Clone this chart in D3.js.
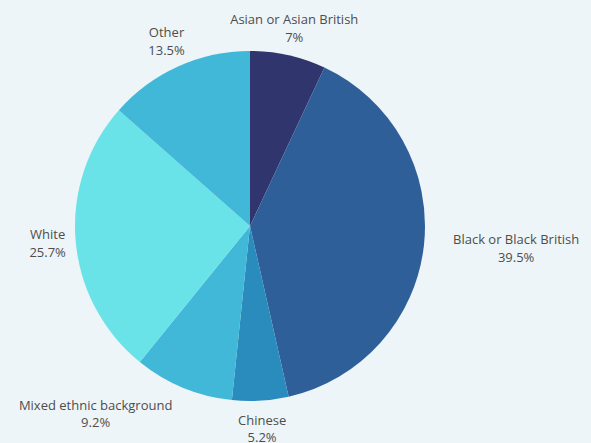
<!DOCTYPE html>
<html>
<head>
<meta charset="utf-8">
<script src="https://cdn.jsdelivr.net/npm/d3@7"></script>
<style>
  html, body { margin: 0; padding: 0; background: #eef5f8; }
  svg { display: block; }
</style>
</head>
<body>
<div class="chart"></div>
<script>
const categories = ["Asian or Asian British", "Black or Black British", "Chinese", "Mixed ethnic background", "White", "Other"];
const values = [7, 39.5, 5.2, 9.2, 25.7, 13.5];
const valueLabels = ["7%", "39.5%", "5.2%", "9.2%", "25.7%", "13.5%"];
const colors = ["#31356d", "#2e5f99", "#2a8bbd", "#41b8d7", "#69e3e8", "#42b8d8"];
const labelAlign = ["middle", "start", "middle", "end", "end", "middle"];

const w = 591;
const h = 443;
const cx = 250;
const cy = 226;
const r = 175;

const svg = d3.select('.chart')
    .append('svg')
    .attr('width', w)
    .attr('height', h);

const data = categories.map((c, i) => ({ name: c, value: values[i], label: valueLabels[i], color: colors[i], align: labelAlign[i] }));

const pie = d3.pie().value(d => d.value).sort(null);
const arc = d3.arc().innerRadius(0).outerRadius(r);

const g = svg.append('g').attr('transform', 'translate(' + cx + ',' + cy + ')');

const arcs = pie(data);

g.selectAll('path')
    .data(arcs)
    .enter()
    .append('path')
    .attr('d', arc)
    .attr('fill', d => d.data.color);

// labels outside the pie, two centred lines per label
const labelR = r + 28;
const labels = g.selectAll('text.lbl')
    .data(arcs)
    .enter()
    .append('text')
    .attr('class', 'lbl')
    .attr('font-family', '"Open Sans", sans-serif')
    .attr('font-size', 13)
    .attr('fill', '#4d4d4d')
    .attr('text-anchor', 'middle');

labels.append('tspan')
    .attr('x', 0)
    .attr('dy', '-0.3em')
    .text(d => d.data.name);

labels.append('tspan')
    .attr('x', 0)
    .attr('dy', '1.35em')
    .text(d => d.data.label);

labels.attr('transform', function(d) {
    const a = (d.startAngle + d.endAngle) / 2;
    const bw = this.getBBox().width;
    let x = Math.sin(a) * labelR;
    const y = -Math.cos(a) * labelR;
    if (d.data.align === 'start') x = r + 28 + bw / 2;
    if (d.data.align === 'end') {
        x = Math.abs(Math.sin(a)) > 0.9 ? -r - 9 - bw / 2 : x - bw / 2;
    }
    return 'translate(' + x + ',' + y + ')';
});
</script>
</body>
</html>
